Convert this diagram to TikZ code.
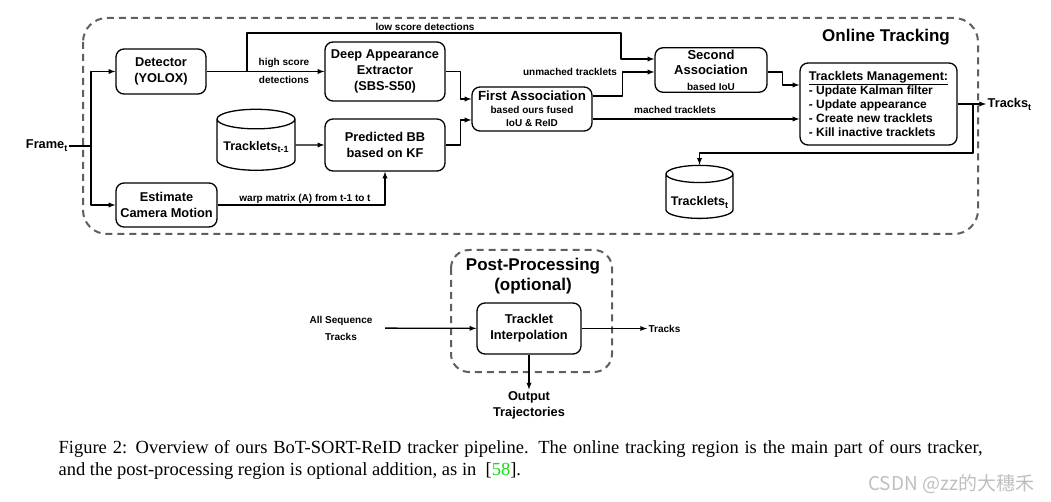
\documentclass[tikz,border=0pt]{standalone}
\usepackage{fontspec}
\setmainfont{Liberation Sans}
\newfontfamily\capfont{Liberation Serif}
\newfontfamily\cjkfont{Noto Sans CJK SC}
\usetikzlibrary{%
  arrows,%
  shapes.geometric,% wg. cylinder
  positioning%
}
\definecolor{regiongray}{RGB}{95,95,95}
\definecolor{citegreen}{RGB}{20,220,20}
\newcommand{\lowsub}[1]{\raisebox{-0.45ex}{\fontsize{9}{9}\selectfont #1}}

\begin{document}
\begin{tikzpicture}[
    x=1pt,y=-1pt,
    >=latex,line width=1.3pt,line join=round,
    block/.style={rectangle,draw,rounded corners=8pt,align=center,
        inner sep=2pt,font=\fontsize{12.8}{16}\selectfont\bfseries},
    plain/.style={inner sep=1pt,align=center,font=\fontsize{12.8}{16}\selectfont\bfseries},
    store/.style={cylinder,draw,shape border rotate=90,aspect=0.3,
        inner sep=0pt,font=\fontsize{12.5}{15}\selectfont\bfseries},
    lbl/.style={inner sep=1pt,align=center,font=\fontsize{10}{12}\selectfont\bfseries},
    title/.style={align=center,inner sep=0pt,font=\fontsize{17}{20}\selectfont\bfseries},
    region/.style={draw=regiongray,line width=2pt,dash pattern=on 7pt off 5pt,
        rounded corners=24pt}
  ]
  \useasboundingbox (0,0) rectangle (1051,502);

  % regions
  \draw[region] (83,18) rectangle (978,234);
  \draw[region,rounded corners=18pt] (451,250) rectangle (612,372);
  \node[title] (online) at (886,37) {Online Tracking};
  \node[title] (post) at (533,276) {Post-Processing\\(optional)};

  % online tracking
  \node[plain,anchor=east] (frame) at (69,146) {Frame\lowsub{t}};
  \coordinate (jn) at (91,146);
  \node[block,minimum width=90pt,minimum height=45pt] (det) at (161,71.5) {Detector\\(YOLOX)};
  \node[block,minimum width=101pt,minimum height=44pt] (ecm) at (166.5,205) {Estimate\\Camera Motion};
  \node[block,minimum width=120pt,minimum height=59pt] (dae) at (385,71.5) {Deep Appearance\\Extractor\\(SBS-S50)};
  \node[store,minimum width=78pt,minimum height=61pt] (trk1) at (256,145)
        {\raisebox{-2pt}[\height][\depth]{Tracklets\lowsub{t-1}}};
  \node[block,minimum width=120pt,minimum height=52pt] (kf) at (385,145) {Predicted BB\\based on KF};
  \node[block,minimum width=120pt,minimum height=44pt,
        font=\fontsize{10}{13}\selectfont\bfseries] (fa) at (532,109)
        {{\fontsize{13.3}{15}\selectfont First Association}\\based ours fused\\IoU \& ReID};
  \node[block,minimum width=112pt,minimum height=44pt,
        font=\fontsize{13}{15.5}\selectfont\bfseries] (second) at (711,70)
        {Second\\Association\\{\fontsize{10}{12}\selectfont based IoU}};
  \node[block,minimum width=157pt,minimum height=82pt,align=left,
        font=\fontsize{12}{14}\selectfont\bfseries] (tm) at (878.5,104)
        {{\fontsize{12.6}{14}\selectfont\underline{Tracklets Management:}}\\
         - Update Kalman filter\\- Update appearance\\
         - Create new tracklets\\- Kill inactive tracklets};
  \node[plain,anchor=west] (tracks) at (986,104) {Tracks\lowsub{t}};
  \node[store,minimum width=67pt,minimum height=53pt] (trk) at (699.5,196.5)
        {\raisebox{-6pt}[\height][\depth]{Tracklets\lowsub{t}}};

  \node[lbl] (hs) at (284,63) {high score};
  \node[lbl] (hd) at (284,80) {detections};
  \node[lbl] (ls) at (425,27) {low score detections};
  \node[lbl] (wm) at (305,199) {warp matrix (A) from t-1 to t};
  \node[lbl] (um) at (570,72) {unmached tracklets};
  \node[lbl] (mt) at (675,110) {mached tracklets};

  \coordinate (lsplit) at (247,71.5);
  \coordinate (tsplit) at (973,104);
  \draw (frame) -- (jn);
  \draw[->] (jn) |- (det);
  \draw[->] (jn) |- (ecm);
  \draw[->] (det) -- (dae);
  \draw[->] (lsplit) |- (621,33) |- ([yshift=11pt]second.west);
  \draw[->] (dae.east) -- ++(15,0) |- ([yshift=10pt]fa.west);
  \draw[->] (kf.east) -- ++(15,0) |- ([yshift=-11pt]fa.west);
  \draw[->] (trk1) -- (kf);
  \draw[->] (ecm) -| (kf);
  \draw[->] ([yshift=13pt]fa.east) -- ++(30,0) |- ([yshift=-2pt]second.west);
  \draw[->] ([yshift=-10pt]fa.east) -- ([yshift=-10pt]fa.east -| tm.west);
  \draw[->] ([yshift=-2pt]second.east) -- ++(15,0) |- ([yshift=19pt]tm.west);
  \draw[->] (tm) -- (tracks);
  \draw[->] (tsplit) -- ++(0,49) -| (trk.top);

  % post-processing
  \node[block,minimum width=104pt,minimum height=51pt] (tip) at (529,328.5) {Tracklet\\Interpolation};
  \node[lbl] (allseq) at (341,328) {All Sequence\\[5pt]Tracks};
  \node[lbl,anchor=west] (tracksout) at (647,328.5) {Tracks};
  \node[plain] (output) at (529,405) {Output\\Trajectories};
  \draw[->,shorten <=11pt] (allseq) -- (tip);
  \draw[->] (tip) -- (tracksout);
  \draw[->] (tip) -- (output);

  % caption
  \node[anchor=north west,inner sep=0pt,text width=924pt,align=justify,
        font=\capfont\fontsize{18.5}{21.5}\selectfont] (caption) at (58,440)
        {Figure 2: Overview of ours BoT-SORT-ReID tracker pipeline. The online tracking
         region is the main part of ours tracker,\linebreak and the post-processing region
         is optional addition, as in~ [\textcolor{citegreen}{58}].};
  \node[anchor=east,inner sep=0pt,text=gray!50,
        font=\cjkfont\fontsize{19}{19}\selectfont] (mark) at (1035,484) {CSDN @zz的大穗禾};
\end{tikzpicture}
\end{document}
